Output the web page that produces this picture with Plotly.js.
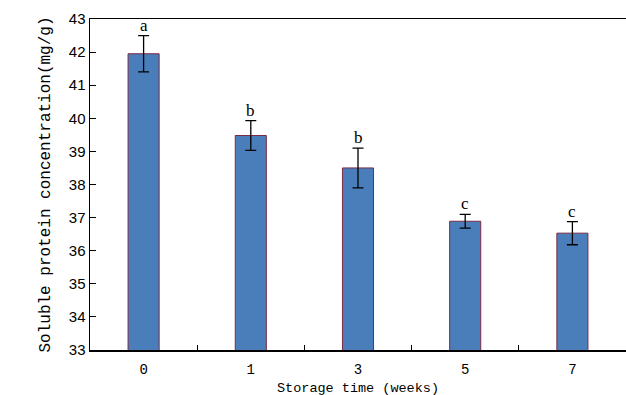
<!DOCTYPE html>
<html>
<head>
<meta charset="utf-8">
<script src="https://cdn.plot.ly/plotly-3.0.1.min.js"></script>
<style>html,body{margin:0;padding:0;background:#fff;}</style>
</head>
<body>
<div id="chart" style="width:626px;height:395px;"></div>
<script>
const categories = ['0', '1', '3', '5', '7'];
const values = [41.95, 39.48, 38.50, 36.89, 36.53];
const errors = [0.55, 0.45, 0.60, 0.21, 0.35];
const letters = ['a', 'b', 'b', 'c', 'c'];
const yTicks = [33, 34, 35, 36, 37, 38, 39, 40, 41, 42, 43];
const xTitle = 'Storage time (weeks)';
const yTitle = 'Soluble protein concentration(mg/g)';

const trace = {
  type: 'bar',
  x: categories,
  y: values,
  width: 0.29,
  marker: {color: '#4a7ebb', line: {color: '#7a2a45', width: 1}},
  error_y: {type: 'data', array: errors, visible: true, color: '#000', thickness: 1.3, width: 5.5}
};

const annotations = categories.map((c, i) => ({
  x: i, y: values[i] + errors[i], xref: 'x', yref: 'y',
  text: letters[i], showarrow: false, yanchor: 'bottom', yshift: -1,
  font: {family: 'Liberation Serif', size: 17, color: '#000'}
}));
annotations.push({
  x: 0.5, y: -0.115, xref: 'paper', yref: 'paper', xanchor: 'center', yanchor: 'middle',
  text: xTitle, showarrow: false,
  font: {family: 'Liberation Mono', size: 13.5, color: '#000'}
});

const layout = {
  width: 626, height: 395,
  margin: {l: 90, r: 0, t: 19, b: 45},
  paper_bgcolor: '#fff', plot_bgcolor: '#fff',
  showlegend: false,
  bargap: 0,
  xaxis: {
    type: 'category', range: [-0.5, 4.5],
    showline: true, linecolor: '#000', linewidth: 1.5, mirror: true,
    ticks: 'inside', tickson: 'boundaries', ticklen: 5, tickcolor: '#000', tickwidth: 1,
    showgrid: false, zeroline: false,
    ticklabelstandoff: 6,
    tickfont: {family: 'Liberation Mono', size: 14, color: '#000'}
  },
  yaxis: {
    range: [33, 43], tickvals: yTicks, ticktext: yTicks.map(String),
    showline: true, linecolor: '#000', linewidth: 1.5,
    ticks: 'inside', ticklen: 6, tickcolor: '#000', tickwidth: 1,
    showgrid: false, zeroline: false,
    tickfont: {family: 'Liberation Sans', size: 15, color: '#000'},
    title: {text: yTitle, standoff: 14, font: {family: 'Liberation Mono', size: 16, color: '#000'}}
  },
  annotations: annotations
};

Plotly.newPlot('chart', [trace], layout, {displayModeBar: false, staticPlot: true});
</script>
</body>
</html>
